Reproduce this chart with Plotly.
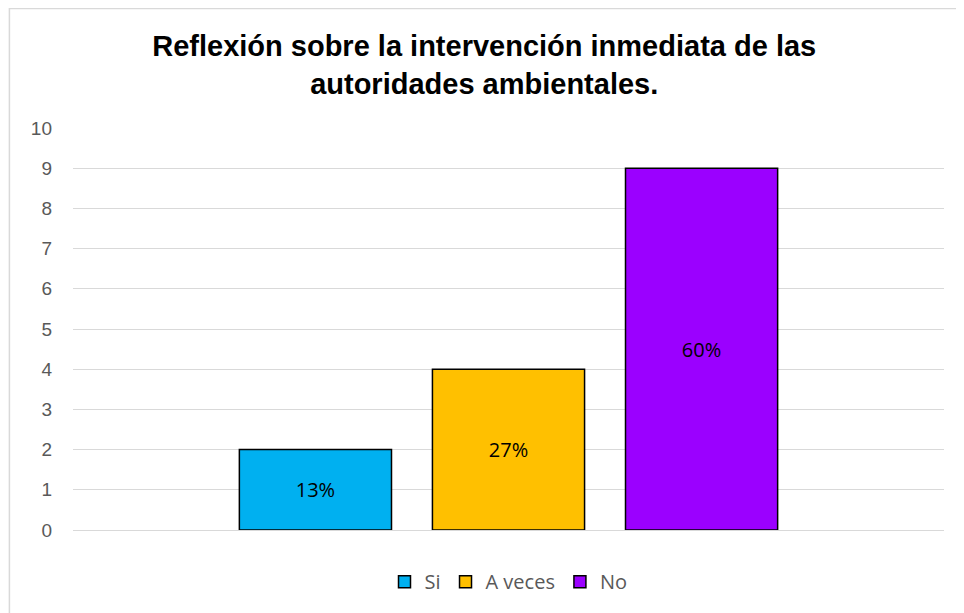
import plotly.graph_objects as go

categories = ["Si", "A veces", "No"]
counts = [2, 4, 9]
percent_labels = ["13%", "27%", "60%"]
colors = ["#00B0F0", "#FFC000", "#9B00FF"]

y_ticks = list(range(0, 11))

fig = go.Figure()
for name, value, label, color in zip(categories, counts, percent_labels, colors):
    fig.add_trace(go.Bar(
        x=["Respuesta"],
        y=[value],
        name=name,
        text=[label],
        textposition="inside",
        insidetextanchor="middle",
        textfont=dict(family="Open Sans, Liberation Sans, Arial", size=20, color="black"),
        marker=dict(color=color, line=dict(color="black", width=1.5)),
        hoverinfo="y+name",
    ))

fig.update_layout(
    width=964,
    height=613,
    barmode="group",
    bargap=0.335,
    bargroupgap=0.212,
    plot_bgcolor="white",
    paper_bgcolor="white",
    margin=dict(l=65, r=28, t=120, b=91),
    title=dict(
        text="Reflexión sobre la intervención inmediata de las<br>autoridades ambientales.",
        x=0.494, xanchor="center",
        y=0.922, yanchor="middle",
        font=dict(family="Liberation Sans, Arial", size=29, color="black", weight="bold"),
    ),
    xaxis=dict(showticklabels=False, showline=False, showgrid=False, zeroline=False),
    yaxis=dict(
        range=[0, 10],
        tickvals=y_ticks,
        showgrid=True,
        gridcolor="#D9D9D9",
        gridwidth=1,
        zeroline=True,
        zerolinecolor="#D9D9D9",
        zerolinewidth=1,
        showline=False,
        ticks="",
        ticklabelstandoff=20,
        tickfont=dict(family="Liberation Sans, Arial", size=19, color="#595959"),
    ),
    legend=dict(
        orientation="h",
        x=0.5, xanchor="center",
        y=-0.08, yanchor="top",
        font=dict(family="Open Sans, Liberation Sans", size=20, color="#595959"),
        itemwidth=30,
        traceorder="normal",
    ),
    shapes=[dict(
        type="rect", xref="paper", yref="paper",
        x0=-0.073, x1=1.1, y0=-0.4, y1=1.297,
        line=dict(color="#D9D9D9", width=1.5),
        fillcolor="rgba(0,0,0,0)",
        layer="below",
    )],
)

fig.write_html("out.html")
